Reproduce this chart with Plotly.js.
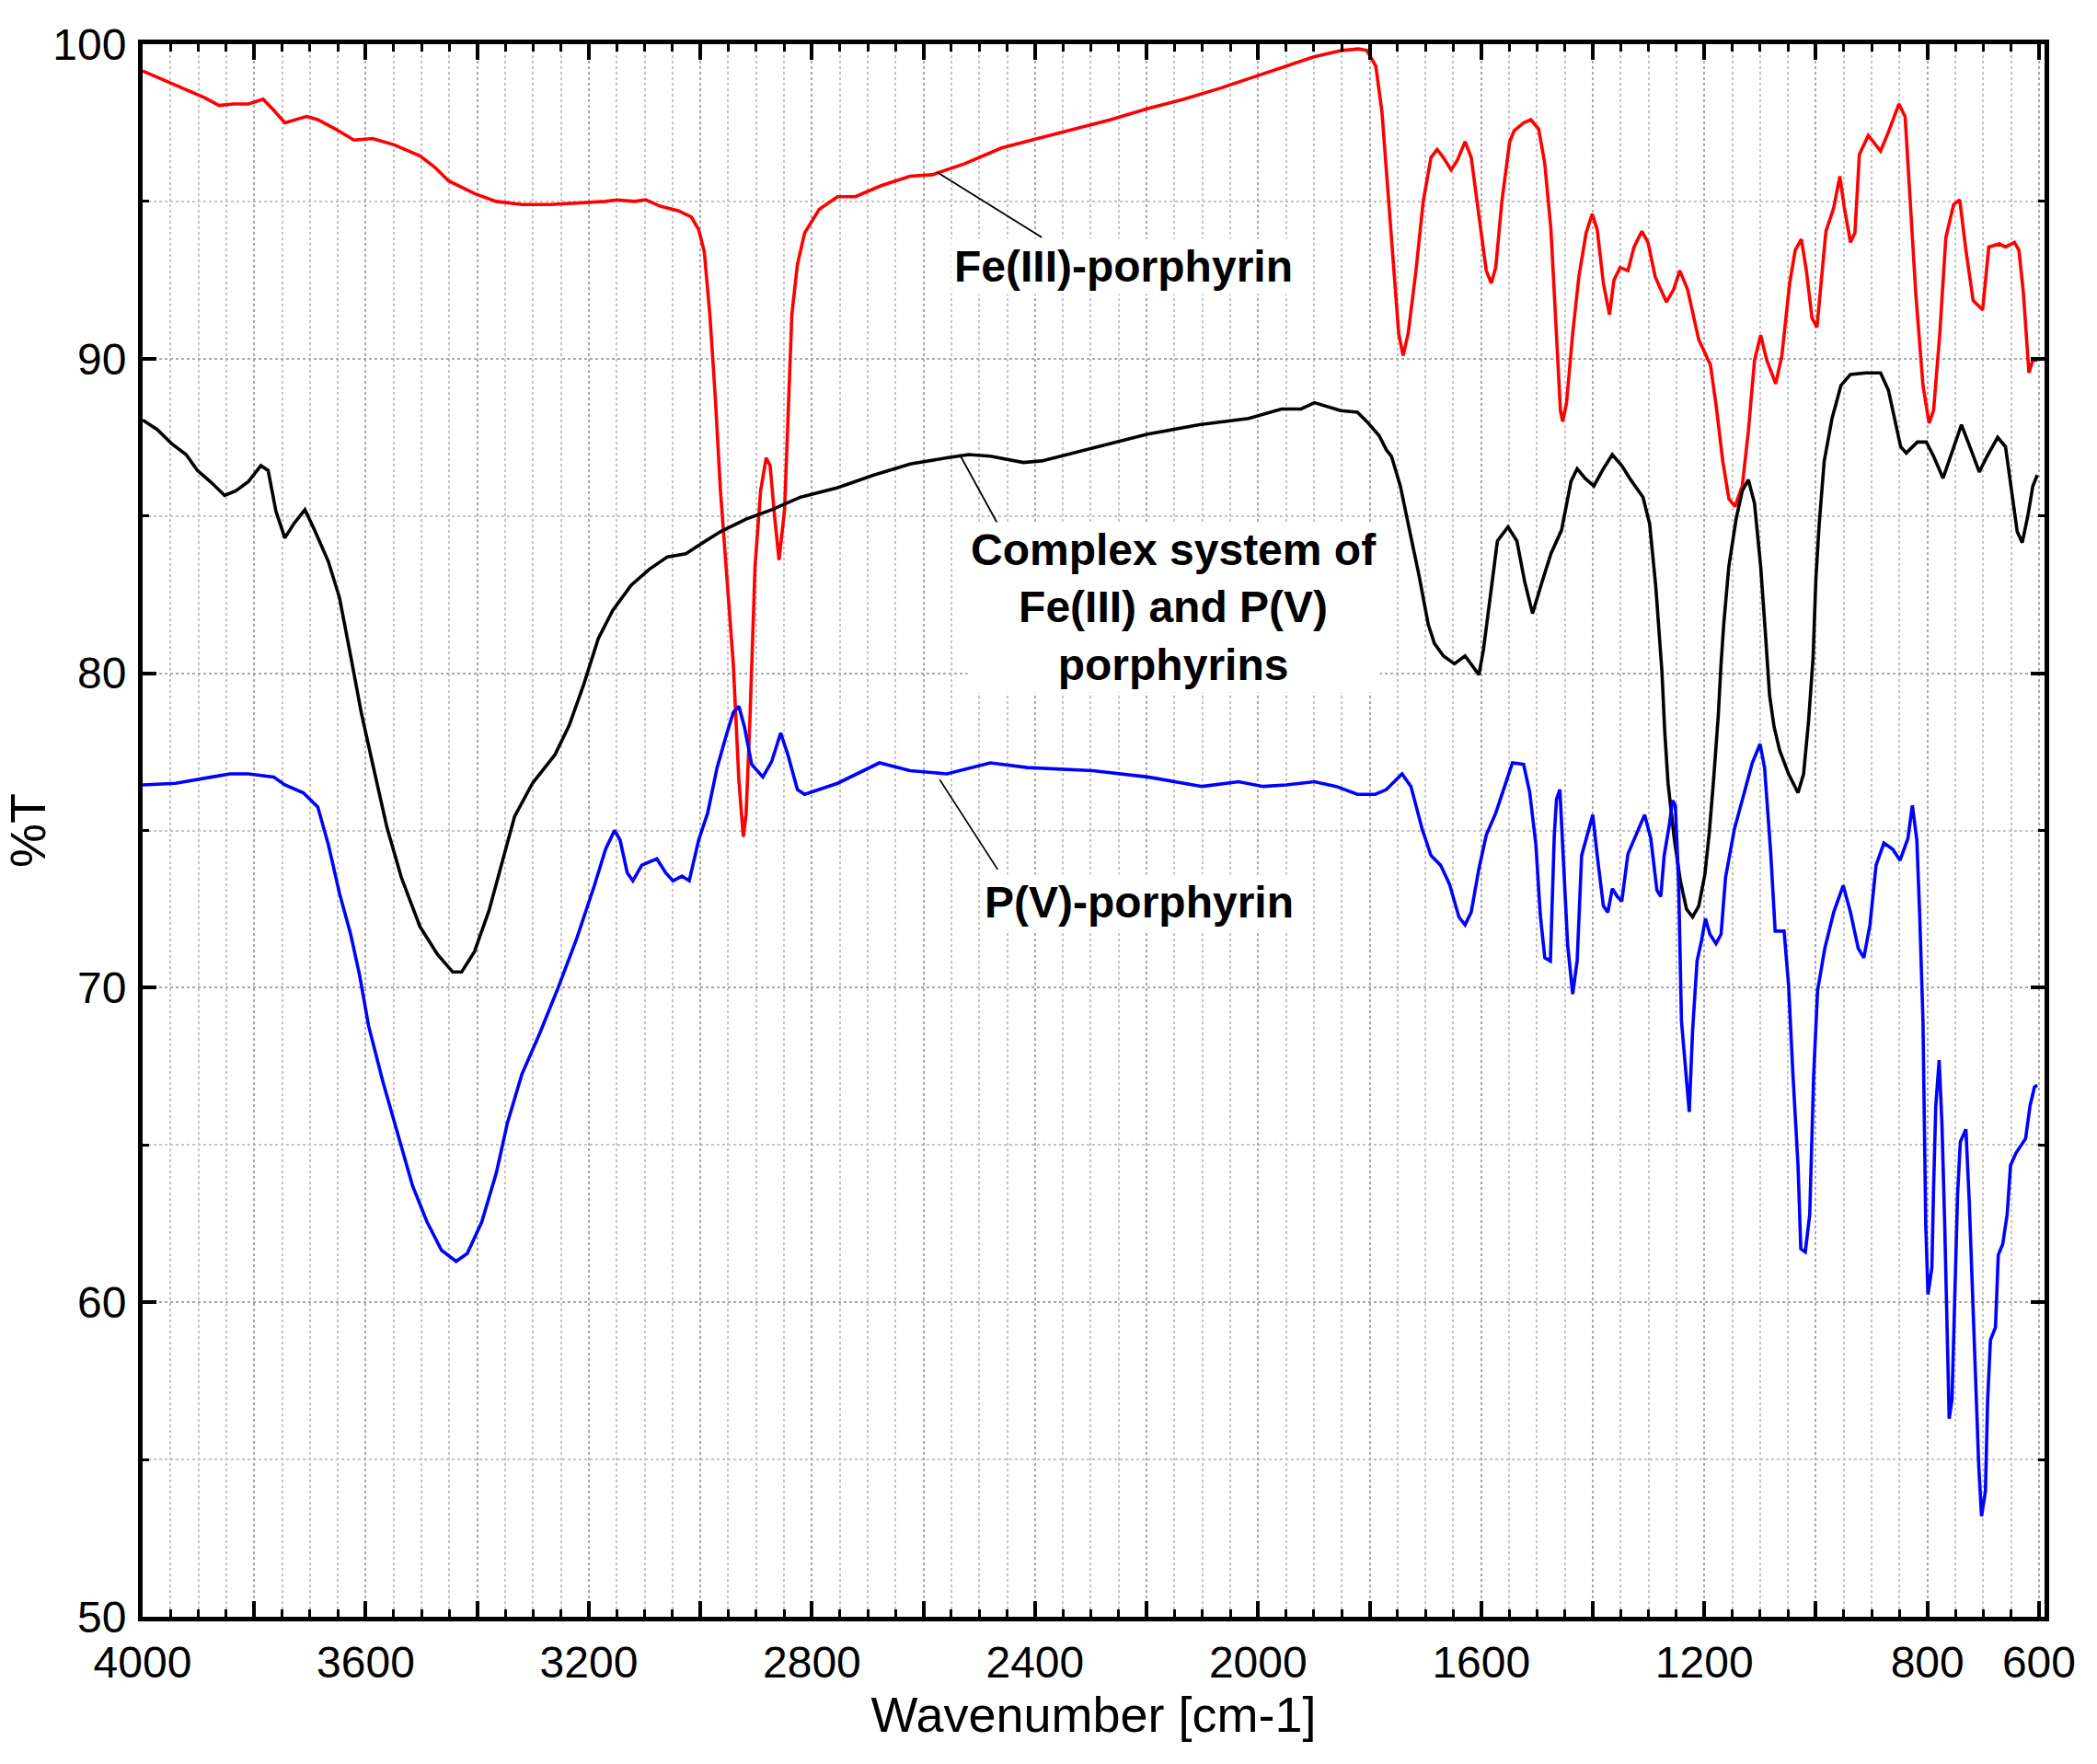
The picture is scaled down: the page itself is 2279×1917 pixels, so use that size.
<!DOCTYPE html>
<html>
<head>
<meta charset="utf-8">
<script src="https://cdn.plot.ly/plotly-3.0.1.min.js"></script>
<style>html,body{margin:0;padding:0;background:#fff;}#chart{width:2279px;height:1917px;}</style>
</head>
<body>
<div id="chart"></div>
<script>
// ---- Data ----
const feWavenumber = [4000,3954,3902,3889,3863,3837,3810,3784,3765,3745,3706,3686,3654,3621,3588,3549,3503,3477,3451,3405,3366,3320,3268,3222,3170,3150,3118,3098,3072,3039,3016,3003,2993,2983,2973,2964,2951,2941,2931,2923,2918,2911,2902,2892,2882,2875,2867,2859,2849,2843,2836,2826,2813,2787,2754,2722,2676,2624,2584,2526,2460,2395,2329,2264,2198,2133,2068,2009,1950,1900,1850,1820,1805,1789,1778,1767,1756,1748,1740,1731,1717,1704,1690,1679,1668,1654,1643,1629,1618,1602,1591,1582,1574,1563,1549,1541,1524,1511,1497,1486,1475,1467,1458,1454,1447,1436,1425,1412,1401,1392,1381,1370,1362,1351,1337,1326,1312,1301,1288,1268,1255,1244,1230,1210,1189,1178,1167,1156,1145,1132,1121,1110,1099,1088,1072,1061,1047,1037,1026,1017,1007,998,990,982,968,957,949,938,930,922,906,884,870,851,840,832,821,808,797,789,778,767,753,742,731,718,701,690,671,660,644,636,628,618,611,603];
const feTransmittance = [99.15,98.8,98.4,98.3,98.05,98.1,98.1,98.25,97.9,97.5,97.7,97.6,97.3,96.95,97.0,96.8,96.45,96.1,95.65,95.25,95.0,94.9,94.9,94.95,95.0,95.05,95.0,95.05,94.85,94.7,94.5,94.1,93.4,91.4,88.7,85.8,82.7,80.3,76.6,74.8,75.5,78.6,83.4,85.8,86.85,86.6,85.0,83.6,85.2,88.3,91.4,93.0,94.0,94.75,95.15,95.15,95.5,95.8,95.85,96.2,96.7,97.0,97.3,97.6,97.95,98.25,98.6,98.95,99.3,99.6,99.8,99.85,99.8,99.3,97.85,95.2,92.8,90.8,90.1,90.8,92.8,95.0,96.4,96.65,96.4,96.0,96.3,96.9,96.4,94.2,92.8,92.4,92.9,95.0,96.9,97.25,97.5,97.6,97.3,96.2,94.1,91.4,88.35,88.0,88.6,90.8,92.6,94.0,94.6,94.1,92.4,91.4,92.5,92.9,92.8,93.55,94.05,93.7,92.6,91.8,92.2,92.8,92.2,90.6,89.8,88.4,86.75,85.55,85.3,85.95,87.7,89.95,90.75,89.95,89.2,90.1,92.4,93.45,93.8,92.8,91.3,91.0,92.6,94.05,94.8,95.8,94.8,93.7,94.0,96.5,97.1,96.6,97.2,98.1,97.7,95.45,92.1,89.15,87.95,88.35,90.75,93.85,94.9,95.05,93.45,91.85,91.55,93.55,93.65,93.55,93.7,93.45,92.1,89.55,89.95,89.95];

const complexWavenumber = [4000,3974,3948,3922,3902,3876,3853,3833,3810,3788,3775,3761,3745,3729,3709,3693,3667,3647,3627,3608,3588,3562,3536,3503,3471,3444,3428,3405,3379,3353,3333,3301,3261,3235,3209,3183,3157,3124,3092,3059,3026,3000,2964,2918,2872,2820,2754,2689,2624,2558,2519,2480,2447,2421,2388,2297,2198,2105,2017,1958,1923,1899,1852,1822,1805,1783,1770,1761,1745,1728,1712,1695,1684,1668,1648,1629,1615,1604,1596,1585,1571,1552,1536,1522,1508,1491,1475,1456,1439,1428,1414,1398,1381,1365,1348,1332,1310,1298,1287,1276,1271,1265,1254,1243,1232,1221,1210,1199,1191,1183,1175,1170,1165,1156,1143,1132,1121,1110,1099,1091,1083,1075,1065,1049,1032,1022,1013,1005,1000,994,985,971,955,938,911,884,870,859,848,838,818,802,789,772,759,739,726,707,693,674,660,650,639,630,620,611,603];
const complexTransmittance = [88.05,87.75,87.3,86.95,86.45,86.05,85.65,85.8,86.1,86.6,86.45,85.15,84.3,84.75,85.2,84.6,83.55,82.4,80.55,78.75,77.15,75.1,73.5,71.95,71.05,70.5,70.5,71.15,72.45,74.15,75.45,76.5,77.4,78.35,79.65,81.1,82.0,82.8,83.3,83.7,83.8,84.1,84.5,84.9,85.2,85.6,85.9,86.3,86.65,86.85,86.95,86.9,86.8,86.7,86.75,87.15,87.6,87.9,88.1,88.4,88.4,88.6,88.35,88.3,88.0,87.55,87.1,86.9,85.95,84.5,83.15,81.55,80.95,80.55,80.3,80.55,80.2,79.95,80.75,82.35,84.2,84.65,84.2,82.9,81.9,82.9,83.8,84.55,86.1,86.5,86.2,85.95,86.5,86.95,86.6,86.15,85.6,84.75,82.75,80.05,78.15,76.5,74.75,73.4,72.5,72.25,72.6,73.6,74.95,76.7,78.65,80.3,81.6,83.4,84.9,85.8,86.15,85.4,83.4,81.4,79.3,78.3,77.55,76.8,76.2,76.8,78.5,80.5,83.0,84.75,86.75,88.1,89.15,89.5,89.55,89.55,89.0,88.1,87.2,87.0,87.35,87.35,86.9,86.2,86.9,87.9,87.3,86.4,86.9,87.5,87.2,85.95,84.5,84.15,85.0,85.95,86.3];

const pvWavenumber = [4000,3941,3876,3843,3810,3765,3745,3712,3686,3667,3647,3627,3611,3595,3569,3542,3516,3490,3464,3438,3418,3392,3366,3346,3320,3288,3255,3222,3190,3170,3154,3144,3131,3121,3105,3078,3062,3049,3033,3020,3003,2987,2970,2954,2941,2931,2921,2908,2888,2872,2856,2843,2826,2813,2754,2679,2624,2558,2480,2414,2297,2198,2100,2035,1991,1950,1899,1860,1822,1790,1770,1742,1726,1706,1690,1673,1657,1640,1629,1618,1604,1591,1574,1560,1544,1524,1513,1502,1494,1486,1476,1469,1465,1459,1453,1445,1436,1428,1420,1409,1400,1392,1381,1373,1365,1356,1348,1337,1321,1307,1296,1285,1278,1272,1263,1257,1252,1246,1241,1232,1227,1221,1213,1205,1198,1190,1179,1170,1162,1146,1130,1114,1100,1092,1081,1073,1057,1049,1041,1032,1027,1019,1011,1004,997,984,968,951,938,924,914,903,892,878,862,849,835,827,819,814,808,805,803,799,792,789,785,779,774,769,765,761,756,751,746,741,731,725,719,714,708,703,696,692,687,678,673,665,657,651,641,624,616,608,603];
const pvTransmittance = [76.45,76.5,76.7,76.8,76.8,76.7,76.45,76.2,75.75,74.55,73.0,71.7,70.4,68.8,67.0,65.3,63.7,62.55,61.65,61.3,61.55,62.55,64.1,65.7,67.25,68.55,70.0,71.55,73.25,74.4,75.0,74.7,73.65,73.4,73.9,74.1,73.65,73.4,73.55,73.4,74.7,75.55,77.0,78.0,78.75,78.95,78.3,77.1,76.7,77.2,78.1,77.4,76.3,76.15,76.5,77.15,76.9,76.8,77.15,77.0,76.9,76.7,76.4,76.55,76.4,76.45,76.55,76.4,76.15,76.15,76.3,76.8,76.4,75.05,74.2,73.9,73.3,72.25,72.0,72.4,73.8,74.85,75.55,76.3,77.15,77.1,76.2,74.55,72.3,70.95,70.85,74.85,76.0,76.3,74.25,71.35,69.8,70.85,74.2,74.95,75.5,74.2,72.6,72.4,73.15,72.9,72.75,74.25,74.95,75.5,74.75,73.1,72.9,74.2,75.15,75.95,75.8,73.3,68.95,67.0,66.05,68.65,70.85,71.5,72.2,71.7,71.4,71.7,73.5,75.05,76.1,77.15,77.75,77.0,74.3,71.8,71.8,70.1,67.2,64.35,61.7,61.6,62.8,67.2,69.9,71.25,72.4,73.25,72.4,71.25,70.95,72.0,73.9,74.6,74.4,74.05,74.75,75.8,74.7,72.4,68.95,65.5,62.45,60.25,61.1,63.6,66.25,67.7,65.7,62.45,59.55,56.3,56.9,60.5,63.4,65.1,65.5,63.2,60.15,58.05,54.8,53.2,54.0,56.9,58.8,59.2,61.5,61.85,62.8,64.35,64.75,65.2,66.25,66.85,66.9];

const xTickVals = [4000,3800,3600,3400,3200,3000,2800,2600,2400,2200,2000,1800,1600,1400,1200,1000,800,600];
const xTickText = ["4000","","3600","","3200","","2800","","2400","","2000","","1600","","1200","","800","600"];
const yTickVals = [50,60,70,80,90,100];
const yTickText = ["50","60","70","80","90","100"];

const labelTexts = ["Fe(III)-porphyrin", "Complex system of<br>Fe(III) and P(V)<br>porphyrins", "P(V)-porphyrin"];
const labelX = [2241, 2151, 2213];
const labelY = [92.92, 82.1, 72.73];
const leaderX0 = [2576, 2535, 2571];
const leaderY0 = [95.93, 86.95, 76.62];
const leaderX1 = [2388, 2462, 2467];
const leaderY1 = [93.86, 84.59, 73.76];

// ---- Chart ----
const FONT = "Liberation Sans, Arial, Helvetica, sans-serif";
function series(x, y, color) {
  return {type: "scatter", mode: "lines", x: x, y: y,
          line: {color: color, width: 3.6}, hoverinfo: "skip", showlegend: false};
}
const traces = [
  series(feWavenumber, feTransmittance, "#ff0000"),
  series(complexWavenumber, complexTransmittance, "#000000"),
  series(pvWavenumber, pvTransmittance, "#0000ff")
];

const shapes = leaderX0.map((x0, i) => ({
  type: "line", xref: "x", yref: "y",
  x0: x0, y0: leaderY0[i], x1: leaderX1[i], y1: leaderY1[i],
  line: {color: "#000000", width: 1.8}
}));

const annotations = labelTexts.map((t, i) => ({
  text: "<b>" + t + "</b>", x: labelX[i], y: labelY[i], xref: "x", yref: "y",
  showarrow: false, align: "center", bgcolor: "#ffffff", borderpad: 3,
  font: {family: FONT, size: 48, color: "#000000"}
}));

const gridMajor = "#a8a8a8";
const gridMinor = "#c4c4c4";

const layout = {
  width: 2279, height: 1917,
  margin: {l: 155, r: 57, t: 48, b: 160},
  paper_bgcolor: "#ffffff", plot_bgcolor: "#ffffff",
  showlegend: false,
  xaxis: {
    range: [4000, 590], tickmode: "array", tickvals: xTickVals, ticktext: xTickText,
    ticks: "inside", ticklen: 17, tickwidth: 4, tickcolor: "#000000",
    showline: true, linewidth: 5, linecolor: "#000000", mirror: "ticks",
    showgrid: true, gridcolor: gridMajor, griddash: "dot", gridwidth: 2,
    zeroline: false, ticklabelstandoff: 3,
    tickfont: {family: FONT, size: 48, color: "#000000"},
    minor: {tickmode: "linear", tick0: 0, dtick: 50, ticks: "inside", ticklen: 8, tickwidth: 3,
            tickcolor: "#000000", showgrid: true, gridcolor: gridMinor, griddash: "dot", gridwidth: 2},
    title: {text: "Wavenumber [cm-1]", font: {family: FONT, size: 54, color: "#000000"}, standoff: 12}
  },
  yaxis: {
    range: [50, 100], tickmode: "array", tickvals: yTickVals, ticktext: yTickText,
    ticks: "inside", ticklen: 15, tickwidth: 4, tickcolor: "#000000",
    showline: true, linewidth: 5, linecolor: "#000000", mirror: "ticks",
    showgrid: true, gridcolor: gridMajor, griddash: "dot", gridwidth: 2,
    zeroline: false, ticklabelstandoff: 3,
    tickfont: {family: FONT, size: 48, color: "#000000"},
    minor: {tickmode: "linear", tick0: 0, dtick: 5, ticks: "inside", ticklen: 7, tickwidth: 3,
            tickcolor: "#000000", showgrid: true, gridcolor: gridMinor, griddash: "dot", gridwidth: 2},
    title: {text: "%T", font: {family: FONT, size: 54, color: "#000000"}, standoff: 0}
  },
  shapes: shapes,
  annotations: annotations
};

Plotly.newPlot("chart", traces, layout, {staticPlot: true, displayModeBar: false});
</script>
</body>
</html>
